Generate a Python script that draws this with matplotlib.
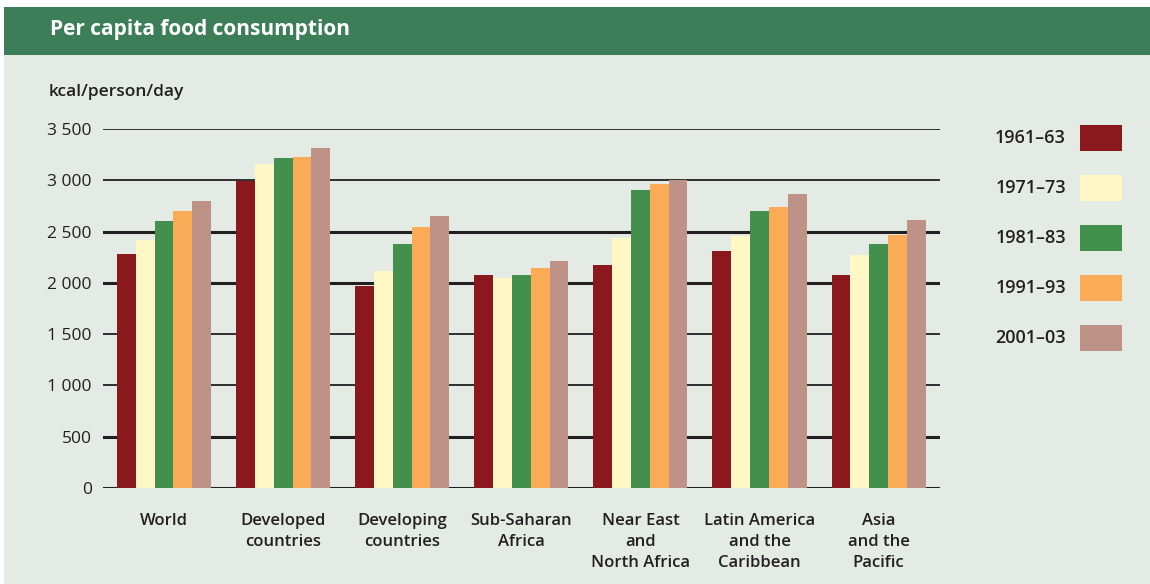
import matplotlib
matplotlib.use("Agg")
import matplotlib.pyplot as plt
from matplotlib.patches import Rectangle
import numpy as np

# data (kcal/person/day)
regions = ["World", "Developed\ncountries", "Developing\ncountries", "Sub-Saharan\nAfrica",
           "Near East\nand\nNorth Africa", "Latin America\nand the\nCaribbean", "Asia\nand the\nPacific"]
periods = ["1961–63", "1971–73", "1981–83", "1991–93", "2001–03"]
v1961 = [2280, 2990, 1965, 2080, 2170, 2310, 2080]
v1971 = [2420, 3155, 2120, 2050, 2440, 2455, 2270]
v1981 = [2600, 3215, 2380, 2080, 2910, 2700, 2380]
v1991 = [2700, 3230, 2540, 2140, 2960, 2740, 2470]
v2001 = [2800, 3315, 2655, 2210, 3000, 2870, 2615]
series = [v1961, v1971, v1981, v1991, v2001]
colors = ["#8b181d", "#fff8c4", "#428f4e", "#f9ab55", "#bf9287"]
yticks = [0, 500, 1000, 1500, 2000, 2500, 3000, 3500]
grid_lw = [2.2, 2.2, 1.3, 1.3, 2.2, 2.2, 1.3, 1.3]

W, H = 1150, 584
bg = "#e4ebe4"
fig = plt.figure(figsize=(W / 100, H / 100), dpi=100, facecolor="white")
plt.rcParams['font.family'] = ['Open Sans', 'DejaVu Sans']

def fx(px):
    return px / W

def fy(py):
    return 1 - py / H

# panel background and header
fig.add_artist(Rectangle((fx(4), 0), 1 - fx(4), fy(55), transform=fig.transFigure,
                         facecolor=bg, edgecolor="none", zorder=0))
fig.add_artist(Rectangle((fx(4), fy(55)), 1 - fx(4), fy(7) - fy(55), transform=fig.transFigure,
                         facecolor="#3c7e57", edgecolor="none", zorder=0))
fig.text(fx(50), fy(29), "Per capita food consumption", color="white", fontsize=15,
         fontweight="bold", va="center", ha="left")
fig.text(fx(49), fy(92), "kcal/person/day", color="#231f20", fontsize=12.5,
         fontweight="semibold", va="center", ha="left")

ax = fig.add_axes([fx(103), fy(488), fx(940) - fx(103), fy(129) - fy(488)])
ax.set_facecolor("none")
x = np.arange(len(regions))
bw = 0.158
for i, (vals, c) in enumerate(zip(series, colors)):
    ax.bar(x + (i - 2) * bw, vals, width=bw, color=c, edgecolor="none", zorder=3)

ax.hlines(yticks, -0.52, 6.52, colors="#231f20", linewidths=grid_lw, zorder=1)
ax.set_xlim(-0.512, 6.515)
ax.set_ylim(0, 3500)
ax.set_yticks(yticks)
ax.set_yticklabels([f"{t:,}".replace(",", " ") for t in yticks], fontsize=12.5, color="#231f20")
ax.tick_params(axis="y", length=0, pad=8)
ax.set_xticks(x)
ax.set_xticklabels(regions, fontsize=12, fontweight="semibold", color="#231f20",
                   linespacing=1.4, va="top")
ax.tick_params(axis="x", length=0, pad=18)
for s in ax.spines.values():
    s.set_visible(False)
ax.set_clip_on(False)

# legend boxes on the right
for k, (lab, c) in enumerate(zip(periods, colors)):
    yc = 138 + 50 * k
    fig.add_artist(Rectangle((fx(1080), fy(yc + 13)), fx(42), 26 / H, transform=fig.transFigure,
                             facecolor=c, edgecolor="none"))
    fig.text(fx(1066), fy(yc), lab, fontsize=13, fontweight="semibold", color="#231f20",
             ha="right", va="center")

fig.savefig("out.png", dpi=100, facecolor="white")
